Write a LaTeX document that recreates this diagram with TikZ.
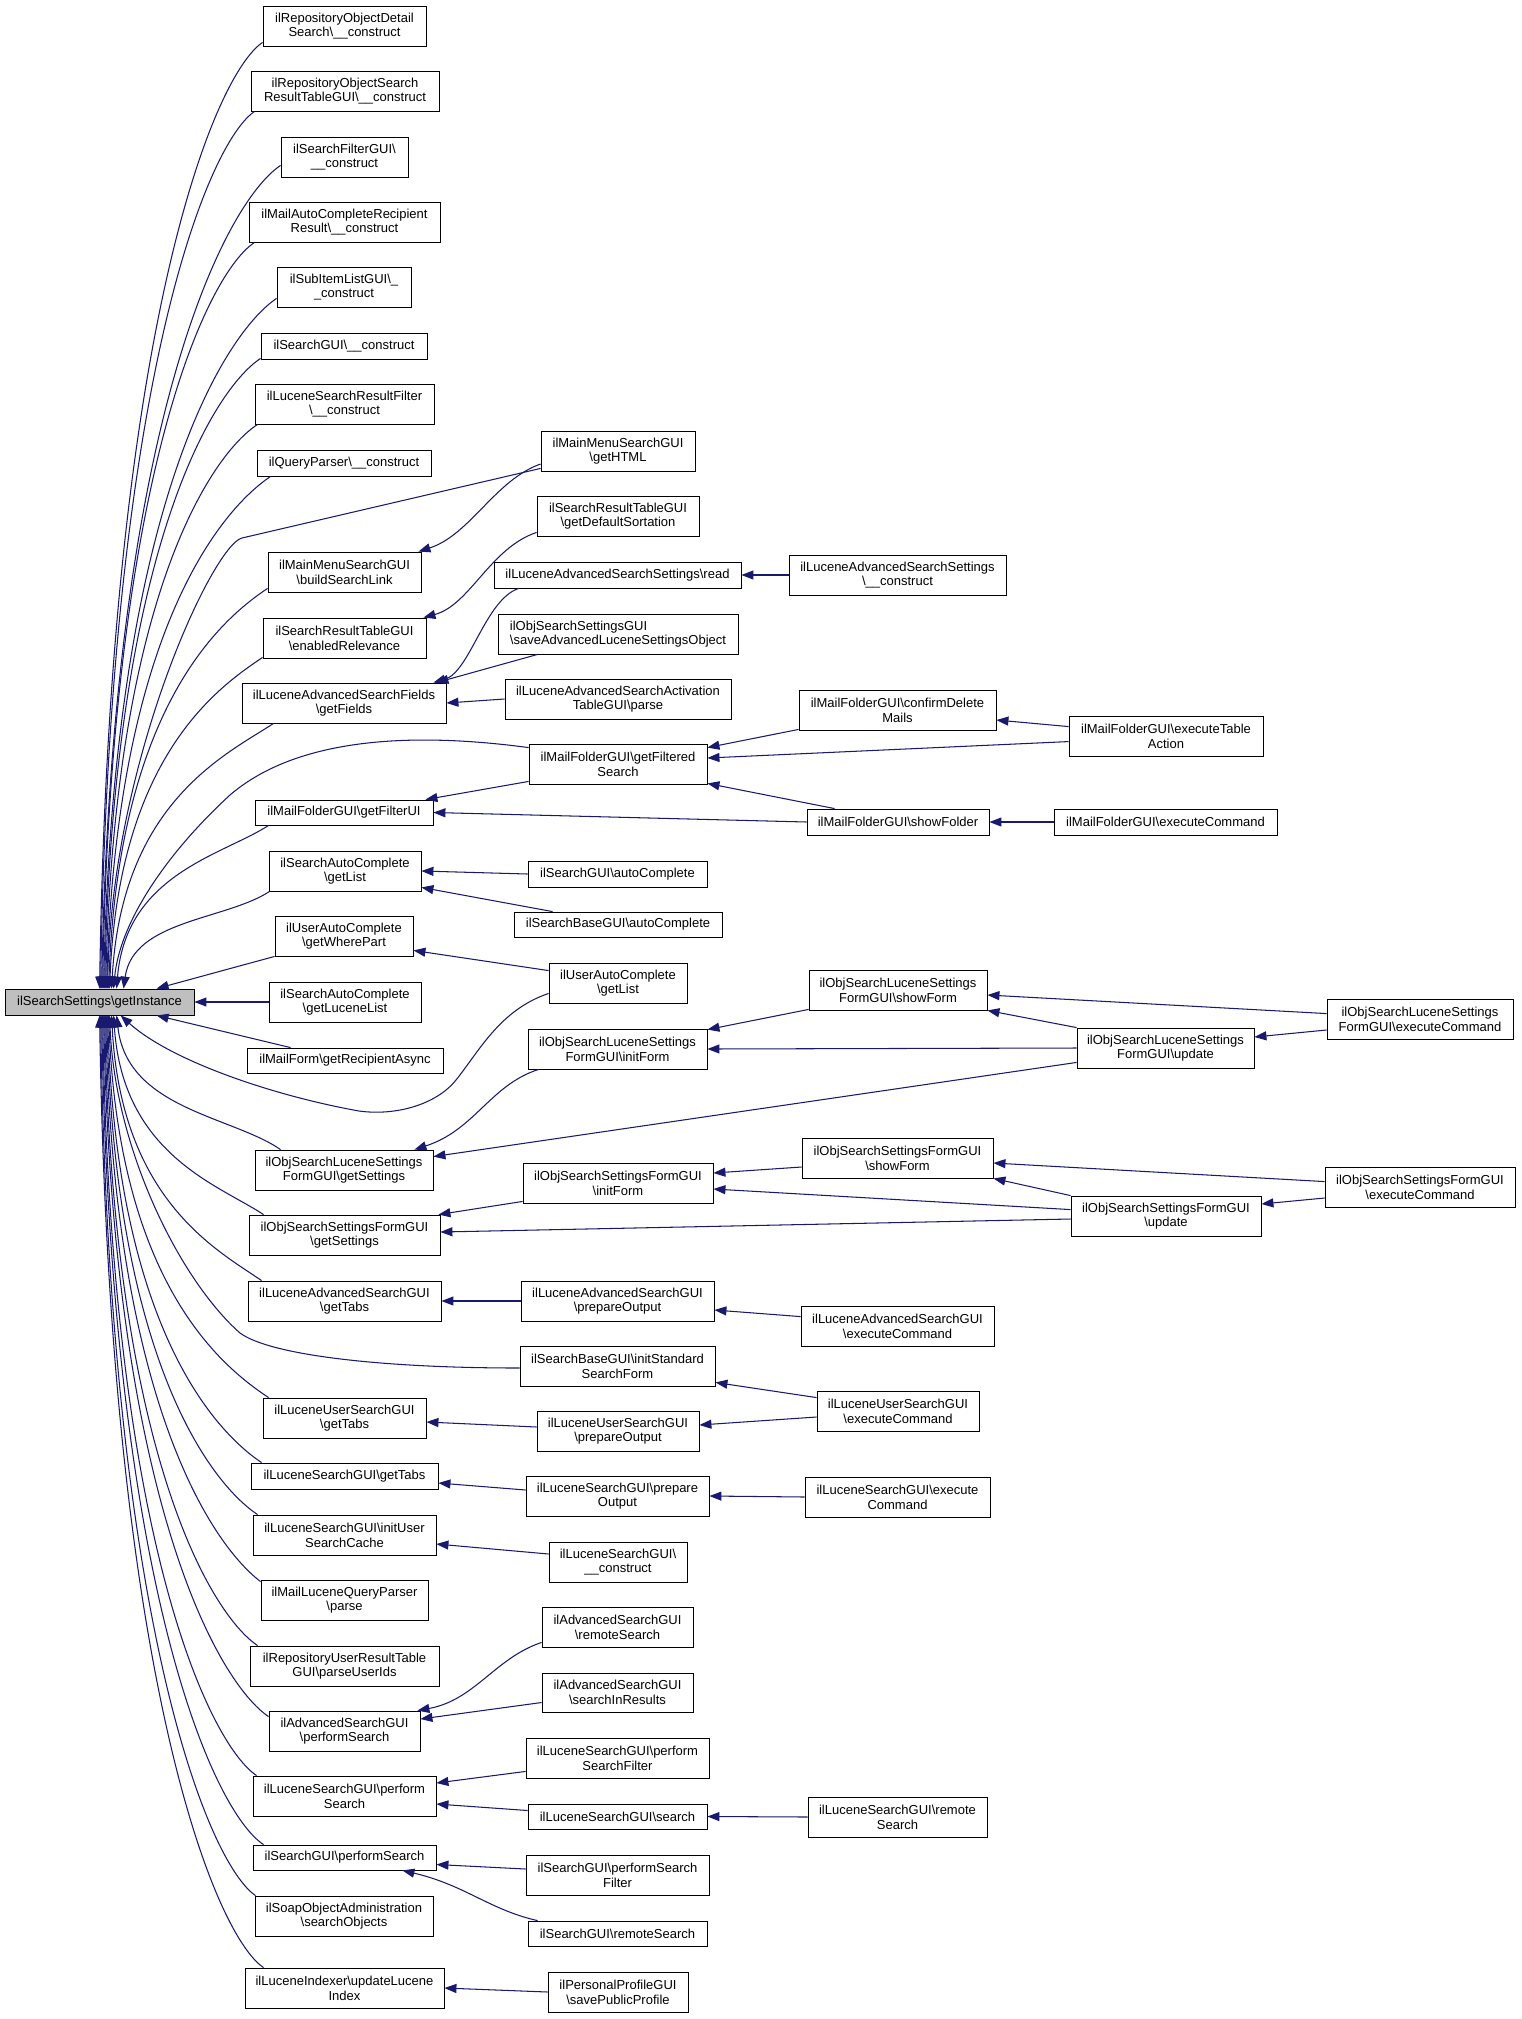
\documentclass[tikz,border=0pt]{standalone}
\usepackage{fontspec}
\setmainfont{Liberation Sans}
\usetikzlibrary{arrows.meta,calc}
\definecolor{edgecol}{RGB}{25,25,112}
\definecolor{gifill}{RGB}{191,191,191}
\newcommand{\Bk}{\textbackslash}
\tikzset{
  nbox/.style={draw=black,line width=0.85pt,inner sep=0pt,align=center,fill=white,
    font=\fontsize{13}{14.7}\selectfont},
  conn/.style={draw=edgecol,line width=1.05pt,-{Triangle[length=12pt,width=9pt]}}
}
\newcommand\bx[7][]{%
  \pgfmathsetmacro\bxw{#5-#3}%
  \pgfmathsetmacro\bxh{#6-#4}%
  \pgfmathsetmacro\bxx{(#3+#5)/2}%
  \pgfmathsetmacro\bxy{-(#4+#6)/2}%
  \node[nbox,minimum width=\bxw pt,minimum height=\bxh pt,#1] (#2) at (\bxx pt,\bxy pt) {#7};}
\begin{document}
\begin{tikzpicture}[x=1pt,y=1pt]
\fill[white] (0,0) rectangle (1521,-2019);
\useasboundingbox (0,0) rectangle (1521,-2019);
% left column
\bx{n1}{263}{6}{426}{46}{ilRepositoryObjectDetail\\Search\Bk\_\_construct}
\bx{n2}{251}{71}{439}{111}{ilRepositoryObjectSearch\\ResultTableGUI\Bk\_\_construct}
\bx{n3}{281}{137}{408}{177}{ilSearchFilterGUI\Bk\\\_\_construct}
\bx{n4}{249}{202}{440}{242}{ilMailAutoCompleteRecipient\\Result\Bk\_\_construct}
\bx{n5}{277}{267}{411}{307}{ilSubItemListGUI\Bk\_\\\_construct}
\bx{n6}{261}{333}{427}{359}{ilSearchGUI\Bk\_\_construct}
\bx{n7}{255}{384}{434}{424}{ilLuceneSearchResultFilter\\\Bk\_\_construct}
\bx{n8}{257}{450}{431}{476}{ilQueryParser\Bk\_\_construct}
\bx{bsl}{268}{552}{421}{592}{ilMainMenuSearchGUI\\\Bk{}buildSearchLink}
\bx{er}{263}{618}{426}{658}{ilSearchResultTableGUI\\\Bk{}enabledRelevance}
\bx{gf}{242}{683}{446}{723}{ilLuceneAdvancedSearchFields\\\Bk{}getFields}
\bx{gfu}{255}{800}{433}{825}{ilMailFolderGUI\Bk{}getFilterUI}
\bx{sagl}{269}{851}{421}{891}{ilSearchAutoComplete\\\Bk{}getList}
\bx{wp}{275}{916}{413}{956}{ilUserAutoComplete\\\Bk{}getWherePart}
\bx[fill=gifill]{gi}{5}{989}{194}{1015}{ilSearchSettings\Bk{}getInstance}
\bx{gll}{269}{982}{421}{1022}{ilSearchAutoComplete\\\Bk{}getLuceneList}
\bx{gra}{247}{1048}{443}{1073}{ilMailForm\Bk{}getRecipientAsync}
\bx{lgs}{255}{1150}{433}{1190}{ilObjSearchLuceneSettings\\FormGUI\Bk{}getSettings}
\bx{sgs}{249}{1215}{440}{1255}{ilObjSearchSettingsFormGUI\\\Bk{}getSettings}
\bx{lagt}{248}{1281}{441}{1321}{ilLuceneAdvancedSearchGUI\\\Bk{}getTabs}
\bx{lugt}{263}{1398}{426}{1438}{ilLuceneUserSearchGUI\\\Bk{}getTabs}
\bx{lsgt}{251}{1463}{438}{1489}{ilLuceneSearchGUI\Bk{}getTabs}
\bx{iusc}{253}{1515}{436}{1555}{ilLuceneSearchGUI\Bk{}initUser\\SearchCache}
\bx{mlqp}{261}{1580}{428}{1620}{ilMailLuceneQueryParser\\\Bk{}parse}
\bx{ruids}{250}{1646}{439}{1686}{ilRepositoryUserResultTable\\GUI\Bk{}parseUserIds}
\bx{aps}{269}{1711}{420}{1751}{ilAdvancedSearchGUI\\\Bk{}performSearch}
\bx{lps}{253}{1776}{436}{1816}{ilLuceneSearchGUI\Bk{}perform\\Search}
\bx{sps}{253}{1845}{436}{1870}{ilSearchGUI\Bk{}performSearch}
\bx{soap}{255}{1896}{433}{1936}{ilSoapObjectAdministration\\\Bk{}searchObjects}
\bx{uli}{245}{1968}{444}{2008}{ilLuceneIndexer\Bk{}updateLucene\\Index}
% middle column
\bx{html}{541}{431}{695}{471}{ilMainMenuSearchGUI\\\Bk{}getHTML}
\bx{gds}{537}{496}{699}{536}{ilSearchResultTableGUI\\\Bk{}getDefaultSortation}
\bx{read}{494}{562}{741}{588}{ilLuceneAdvancedSearchSettings\Bk{}read}
\bx[align=left]{save}{498}{614}{738}{654}{ilObjSearchSettingsGUI\\\Bk{}saveAdvancedLuceneSettingsObject}
\bx{act}{505}{679}{731}{719}{ilLuceneAdvancedSearchActivation\\TableGUI\Bk{}parse}
\bx{gfs}{529}{744}{707}{784}{ilMailFolderGUI\Bk{}getFiltered\\Search}
\bx{sgac}{528}{861}{707}{887}{ilSearchGUI\Bk{}autoComplete}
\bx{sbac}{514}{912}{722}{937}{ilSearchBaseGUI\Bk{}autoComplete}
\bx{uagl}{549}{963}{687}{1003}{ilUserAutoComplete\\\Bk{}getList}
\bx{linit}{528}{1029}{707}{1069}{ilObjSearchLuceneSettings\\FormGUI\Bk{}initForm}
\bx{sinit}{523}{1163}{713}{1203}{ilObjSearchSettingsFormGUI\\\Bk{}initForm}
\bx{lapo}{521}{1281}{714}{1321}{ilLuceneAdvancedSearchGUI\\\Bk{}prepareOutput}
\bx{issf}{520}{1346}{715}{1386}{ilSearchBaseGUI\Bk{}initStandard\\SearchForm}
\bx{lupo}{537}{1411}{699}{1451}{ilLuceneUserSearchGUI\\\Bk{}prepareOutput}
\bx{lspo}{526}{1476}{709}{1516}{ilLuceneSearchGUI\Bk{}prepare\\Output}
\bx{lsc}{549}{1542}{687}{1582}{ilLuceneSearchGUI\Bk\\\_\_construct}
\bx{asrs}{542}{1607}{693}{1647}{ilAdvancedSearchGUI\\\Bk{}remoteSearch}
\bx{asir}{542}{1673}{693}{1712}{ilAdvancedSearchGUI\\\Bk{}searchInResults}
\bx{lpsf}{526}{1738}{709}{1778}{ilLuceneSearchGUI\Bk{}perform\\SearchFilter}
\bx{lss}{528}{1804}{707}{1829}{ilLuceneSearchGUI\Bk{}search}
\bx{spsf}{526}{1855}{709}{1895}{ilSearchGUI\Bk{}performSearch\\Filter}
\bx{srs}{528}{1921}{707}{1946}{ilSearchGUI\Bk{}remoteSearch}
\bx{pps}{548}{1972}{688}{2012}{ilPersonalProfileGUI\\\Bk{}savePublicProfile}
% third column
\bx{lasc}{789}{555}{1006}{595}{ilLuceneAdvancedSearchSettings\\\Bk\_\_construct}
\bx{cdm}{799}{690}{996}{730}{ilMailFolderGUI\Bk{}confirmDelete\\Mails}
\bx{sf}{807}{809}{989}{835}{ilMailFolderGUI\Bk{}showFolder}
\bx{lsf}{809}{970}{987}{1010}{ilObjSearchLuceneSettings\\FormGUI\Bk{}showForm}
\bx{ssf}{802}{1138}{993}{1178}{ilObjSearchSettingsFormGUI\\\Bk{}showForm}
\bx{laec}{801}{1306}{994}{1346}{ilLuceneAdvancedSearchGUI\\\Bk{}executeCommand}
\bx{luec}{817}{1391}{979}{1431}{ilLuceneUserSearchGUI\\\Bk{}executeCommand}
\bx{lsec}{805}{1477}{990}{1517}{ilLuceneSearchGUI\Bk{}execute\\Command}
\bx{lrs}{808}{1797}{987}{1837}{ilLuceneSearchGUI\Bk{}remote\\Search}
% fourth column
\bx{eta}{1069}{716}{1263}{756}{ilMailFolderGUI\Bk{}executeTable\\Action}
\bx{mfec}{1054}{809}{1277}{835}{ilMailFolderGUI\Bk{}executeCommand}
\bx{lupd}{1077}{1028}{1254}{1068}{ilObjSearchLuceneSettings\\FormGUI\Bk{}update}
\bx{supd}{1071}{1196}{1261}{1236}{ilObjSearchSettingsFormGUI\\\Bk{}update}
% fifth column
\bx{lec}{1327}{999}{1513}{1039}{ilObjSearchLuceneSettings\\FormGUI\Bk{}executeCommand}
\bx{sec}{1325}{1167}{1515}{1207}{ilObjSearchSettingsFormGUI\\\Bk{}executeCommand}

% ---- fan into getInstance (top)
\draw[conn] ([yshift=4pt]n1.south west) .. controls (214,-75) and (110,-326) .. ([xshift=95pt]gi.north west);
\draw[conn] ([xshift=4pt]n2.south west) .. controls (209,-142) and (110,-374) .. ([xshift=96pt]gi.north west);
\draw[conn] ([yshift=12pt]n3.south west) .. controls (227,-201) and (113,-412) .. ([xshift=97pt]gi.north west);
\draw[conn] ([xshift=6pt]n4.south west) .. controls (209,-272) and (112,-466) .. ([xshift=98pt]gi.north west);
\draw[conn] ([yshift=9pt]n5.south west) .. controls (225,-333) and (114,-505) .. ([xshift=99pt]gi.north west);
\draw[conn] ([yshift=1pt]n6.south west) .. controls (214,-389) and (114,-547) .. ([xshift=100pt]gi.north west);
\draw[conn] ([xshift=3pt]n7.south west) .. controls (212,-454) and (115,-594) .. ([xshift=101pt]gi.north west);
\draw[conn] ([xshift=14pt]n8.south west) .. controls (222,-509) and (117,-630) .. ([xshift=102pt]gi.north west);
\draw[conn] ([yshift=3pt]html.south west) -- (242,-538) .. controls (213,-545) and (112,-760) .. ([xshift=103pt]gi.north west);
\draw[conn] ([yshift=4pt]bsl.south west) .. controls (220,-620) and (119,-708) .. ([xshift=104pt]gi.north west);
\draw[conn] ([yshift=1pt]er.south west) .. controls (217,-688) and (119,-757) .. ([xshift=105pt]gi.north west);
\draw[conn] ([xshift=32pt]gf.south west) .. controls (225,-755) and (122,-803) .. ([xshift=107pt]gi.north west);
\draw[conn] ([yshift=-4pt]gfs.north west) .. controls (420,-733) and (300,-735) .. (230,-795) .. controls (170,-850) and (120,-920) .. ([xshift=109pt]gi.north west);
\draw[conn] ([xshift=14pt]gfu.south west) .. controls (223,-855) and (126,-874) .. ([xshift=112pt]gi.north west);
\draw[conn] ([xshift=1pt]sagl.south west) .. controls (226,-920) and (133,-920) .. ([xshift=119pt]gi.north west);
\draw[conn] (wp.south west) -- ([xshift=152pt]gi.north west);
\draw[conn] (gll.west) -- (gi.east);
% ---- fan into getInstance (bottom)
\draw[conn] ([xshift=44pt]gra.north west) -- ([xshift=152pt]gi.south west);
\draw[conn] ([yshift=10pt]uagl.south west) .. controls (500,-1010) and (480,-1050) .. (456,-1080) .. controls (436,-1105) and (395,-1116) .. (359,-1111) .. controls (270,-1095) and (170,-1060) .. ([xshift=116pt]gi.south west);
\draw[conn] ([xshift=26pt]lgs.north west) .. controls (232,-1116) and (127,-1109) .. ([xshift=112pt]gi.south west);
\draw[conn] ([xshift=15pt]sgs.north west) .. controls (219,-1185) and (123,-1155) .. ([xshift=109pt]gi.south west);
\draw[conn] ([xshift=14pt]lagt.north west) .. controls (217,-1250) and (121,-1200) .. ([xshift=107pt]gi.south west);
\draw[conn] ([yshift=-2pt]issf.west) .. controls (380,-1368) and (270,-1355) .. (240,-1333) .. controls (180,-1280) and (115,-1150) .. ([xshift=105pt]gi.south west);
\draw[conn] ([xshift=6pt]lugt.north west) .. controls (221,-1366) and (119,-1283) .. ([xshift=104pt]gi.south west);
\draw[conn] ([xshift=11pt]lsgt.north west) .. controls (216,-1432) and (117,-1329) .. ([xshift=103pt]gi.south west);
\draw[conn] ([xshift=5pt]iusc.north west) .. controls (213,-1485) and (116,-1365) .. ([xshift=102pt]gi.south west);
\draw[conn] ([yshift=-2pt]mlqp.north west) .. controls (215,-1547) and (115,-1409) .. ([xshift=101pt]gi.south west);
\draw[conn] ([xshift=8pt]ruids.north west) .. controls (212,-1615) and (114,-1457) .. ([xshift=100pt]gi.south west);
\draw[conn] ([yshift=-6pt]aps.north west) .. controls (220,-1684) and (114,-1506) .. ([xshift=99pt]gi.south west);
\draw[conn] ([xshift=4pt]lps.north west) .. controls (211,-1745) and (112,-1548) .. ([xshift=98pt]gi.south west);
\draw[conn] ([xshift=11pt]sps.north west) .. controls (215,-1813) and (112,-1596) .. ([xshift=97pt]gi.south west);
\draw[conn] ([xshift=1pt]soap.north west) .. controls (210,-1865) and (110,-1632) .. ([xshift=96pt]gi.south west);
\draw[conn] ([xshift=19pt]uli.north west) .. controls (215,-1935) and (110,-1682) .. ([xshift=95pt]gi.south west);

% ---- other connectors
\draw[conn] ([yshift=-13pt]html.west) .. controls (495,-480) and (470,-535) .. ([xshift=-3pt]bsl.north east);
\draw[conn] ([yshift=4pt]gds.south west) .. controls (490,-548) and (470,-605) .. ([xshift=-3pt]er.north east);
\draw[conn] (lasc.west) -- (read.east);
\draw[conn] ([xshift=25pt]read.south west) .. controls (485,-600) and (470,-672) .. ([xshift=-13pt]gf.north east);
\draw[conn] ([xshift=40pt]save.south west) -- ([xshift=-10pt]gf.north east);
\draw[conn] (act.west) -- (gf.east);
\draw[conn] ([yshift=3pt]gfs.south west) -- ([xshift=-8pt]gfu.north east);
\draw[conn] (sf.west) -- (gfu.east);
\draw[conn] ([yshift=1pt]cdm.south west) -- ([yshift=-4pt]gfs.north east);
\draw[conn] ([yshift=-26pt]eta.north west) -- ([yshift=6pt]gfs.east);
\draw[conn] ([yshift=-11pt]eta.north west) -- ([yshift=-10pt]cdm.east);
\draw[conn] ([xshift=28pt]sf.north west) -- ([yshift=1pt]gfs.south east);
\draw[conn] (mfec.west) -- (sf.east);
\draw[conn] (sgac.west) -- (sagl.east);
\draw[conn] ([xshift=39pt]sbac.north west) -- ([yshift=4pt]sagl.south east);
\draw[conn] ([yshift=-8pt]uagl.north west) -- ([yshift=6pt]wp.south east);
\draw[conn] ([xshift=11pt]linit.south west) .. controls (490,-1085) and (475,-1130) .. ([xshift=-19pt]lgs.north east);
\draw[conn] ([yshift=6pt]lupd.south west) -- ([yshift=-7pt]lgs.north east);
\draw[conn] ([yshift=1pt]lsf.south west) -- ([yshift=-1pt]linit.north east);
\draw[conn] (lupd.west) -- (linit.east);
\draw[conn] ([yshift=-15pt]lec.north west) -- ([yshift=-5pt]lsf.east);
\draw[conn] ([yshift=-11pt]lec.west) -- ([yshift=11pt]lupd.east);
\draw[conn] (lupd.north west) -- (lsf.south east);
\draw[conn] ([yshift=2pt]sinit.south west) -- ([xshift=-2pt]sgs.north east);
\draw[conn] ([yshift=-3pt]supd.west) -- ([yshift=3pt]sgs.east);
\draw[conn] ([yshift=-9pt]ssf.west) -- ([yshift=10pt]sinit.east);
\draw[conn] ([yshift=-14pt]supd.north west) -- ([yshift=-6pt]sinit.east);
\draw[conn] ([yshift=-15pt]sec.north west) -- ([yshift=-5pt]ssf.east);
\draw[conn] ([yshift=-11pt]sec.west) -- ([yshift=12pt]supd.east);
\draw[conn] (supd.north west) -- (ssf.south east);
\draw[conn] (lapo.west) -- (lagt.east);
\draw[conn] ([yshift=-11pt]laec.north west) -- ([yshift=-9pt]lapo.east);
\draw[conn] ([yshift=-7pt]luec.north west) -- ([yshift=4pt]issf.south east);
\draw[conn] ([yshift=-6pt]luec.west) -- ([yshift=6pt]lupo.east);
\draw[conn] ([yshift=4pt]lupo.west) -- ([yshift=-4pt]lugt.east);
\draw[conn] ([yshift=6pt]lspo.west) -- ([yshift=-7pt]lsgt.east);
\draw[conn] (lsec.west) -- (lspo.east);
\draw[conn] ([yshift=8pt]lsc.west) -- ([yshift=-9pt]iusc.east);
\draw[conn] ([yshift=5pt]asrs.south west) .. controls (495,-1658) and (475,-1700) .. ([xshift=-3pt]aps.north east);
\draw[conn] ([yshift=-10pt]asir.west) -- ([yshift=12pt]aps.east);
\draw[conn] ([yshift=7pt]lpsf.south west) -- ([yshift=13pt]lps.east);
\draw[conn] ([yshift=6pt]lss.west) -- ([yshift=-8pt]lps.east);
\draw[conn] (lrs.west) -- (lss.east);
\draw[conn] ([yshift=6pt]spsf.west) -- ([yshift=-7pt]sps.east);
\draw[conn] ([xshift=10pt]srs.north west) .. controls (490,-1910) and (465,-1885) .. ([xshift=-34pt]sps.south east);
\draw[conn] (pps.west) -- (uli.east);
\end{tikzpicture}
\end{document}
